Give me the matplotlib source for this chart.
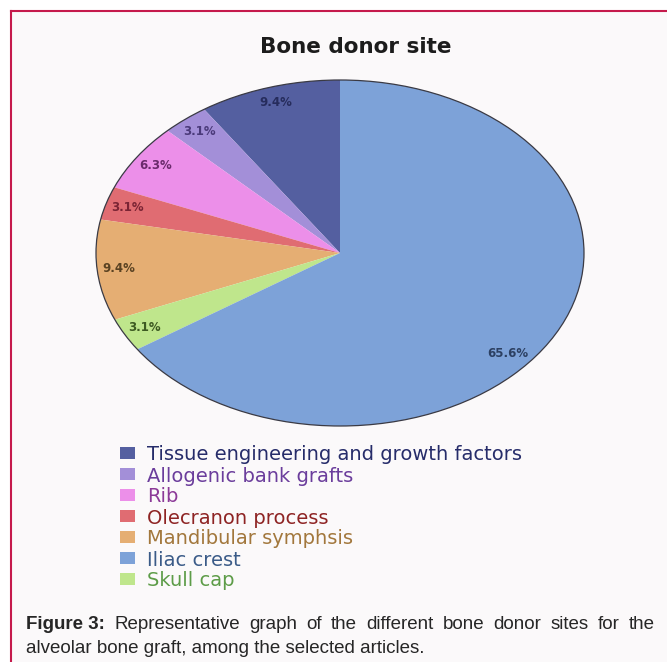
import numpy as np
import matplotlib
matplotlib.use('Agg')
import matplotlib.pyplot as plt
from matplotlib.patches import Rectangle, Ellipse
from matplotlib.lines import Line2D

# pie slices, counter-clockwise from 12 o'clock
sites = ['Tissue engineering and growth factors', 'Allogenic bank grafts', 'Rib',
         'Olecranon process', 'Mandibular symphsis', 'Skull cap', 'Iliac crest']
percent = [9.4, 3.1, 6.3, 3.1, 9.4, 3.1, 65.6]
wedge_colors = ['#545fa0', '#a38fd8', '#ec8fe9', '#e06c72', '#e5ae73', '#bfe68c', '#7da2d8']
pct_colors = ['#262c5c', '#4b3a7a', '#6a2a6c', '#7a2434', '#5a4222', '#3d5a22', '#2c4062']

# legend has its own order
legend_order = ['Tissue engineering and growth factors', 'Allogenic bank grafts', 'Rib',
                'Olecranon process', 'Mandibular symphsis', 'Iliac crest', 'Skull cap']
legend_text_colors = ['#262c6a', '#6b3d9c', '#8c3a98', '#8e2424', '#a2773c', '#3b5b88', '#5d9c48']

title = 'Bone donor site'
caption_bold = 'Figure 3:'
caption_line1 = 'Representative graph of the different bone donor sites for the'
caption_line2 = 'alveolar bone graft, among the selected articles.'

W, H = 667, 662
fig = plt.figure(figsize=(W / 100, H / 100), dpi=100, facecolor='white')

# panel background + red frame (left and top)
fig.add_artist(Rectangle((10 / W, 0), 1, 1 - 11 / H, transform=fig.transFigure,
                         facecolor='#fbf9fa', edgecolor='none', zorder=0))
fig.add_artist(Line2D([10.5 / W, 10.5 / W], [0, 1 - 10.5 / H], transform=fig.transFigure,
                      color='#c51a4c', lw=1.5))
fig.add_artist(Line2D([10.5 / W, 1], [1 - 10.5 / H, 1 - 10.5 / H], transform=fig.transFigure,
                      color='#c51a4c', lw=1.5))

fig.text(356 / W, 1 - 47 / H, title, ha='center', va='center', fontsize=15.5,
         fontweight='bold', color='#1c1c1c', family='DejaVu Sans')

# the pie (stretched into an ellipse)
ax = fig.add_axes([96 / W, 1 - 426 / H, 488 / W, 346 / H])
wedges, texts, autotexts = ax.pie(percent, colors=wedge_colors, startangle=90,
                                  counterclock=True, autopct='%.1f%%', pctdistance=0.91,
                                  wedgeprops=dict(linewidth=0),
                                  textprops=dict(fontsize=8.5, fontweight='bold', family='DejaVu Sans'))
for t, c in zip(autotexts, pct_colors):
    t.set_color(c)
# the big slice label sits a bit further round in the original
big = int(np.argmax(percent))
wb = wedges[big]
ang = np.deg2rad((wb.theta1 + wb.theta2) / 2 - 12)
autotexts[big].set_position((0.9 * np.cos(ang), 0.9 * np.sin(ang)))

ax.add_patch(Ellipse((0, 0), 2, 2, fill=False, edgecolor='#3a3a44', lw=0.9, clip_on=False))
ax.set_aspect('auto')
ax.set_xlim(-1, 1)
ax.set_ylim(-1, 1)
ax.axis('off')

# legend
for i, name in enumerate(legend_order):
    yc = 453 + 21 * i
    col = wedge_colors[sites.index(name)]
    fig.add_artist(Rectangle((120 / W, 1 - (yc + 6) / H), 15 / W, 12 / H,
                             transform=fig.transFigure, facecolor=col, edgecolor='none'))
    fig.text(147 / W, 1 - yc / H, name, ha='left', va='center_baseline', fontsize=14,
             color=legend_text_colors[i], family='DejaVu Sans')

# caption, first line justified
cap_family = 'Liberation Sans'
cap_size = 13.5
renderer = fig.canvas.get_renderer()
words = [(caption_bold, 'bold')] + [(w, 'normal') for w in caption_line1.split()]
arts = [fig.text(0, 0, w, fontsize=cap_size, fontweight=wt, family=cap_family, color='#262626')
        for w, wt in words]
widths = [a.get_window_extent(renderer).width for a in arts]
left, right = 26, 655
gap = (right - left - sum(widths)) / (len(words) - 1)
x = left
for a, w in zip(arts, widths):
    a.set_position((x / W, 1 - 629 / H))
    x += w + gap
fig.text(left / W, 1 - 653 / H, caption_line2, fontsize=cap_size, family=cap_family,
         color='#262626')

fig.savefig('out.png', dpi=100)
